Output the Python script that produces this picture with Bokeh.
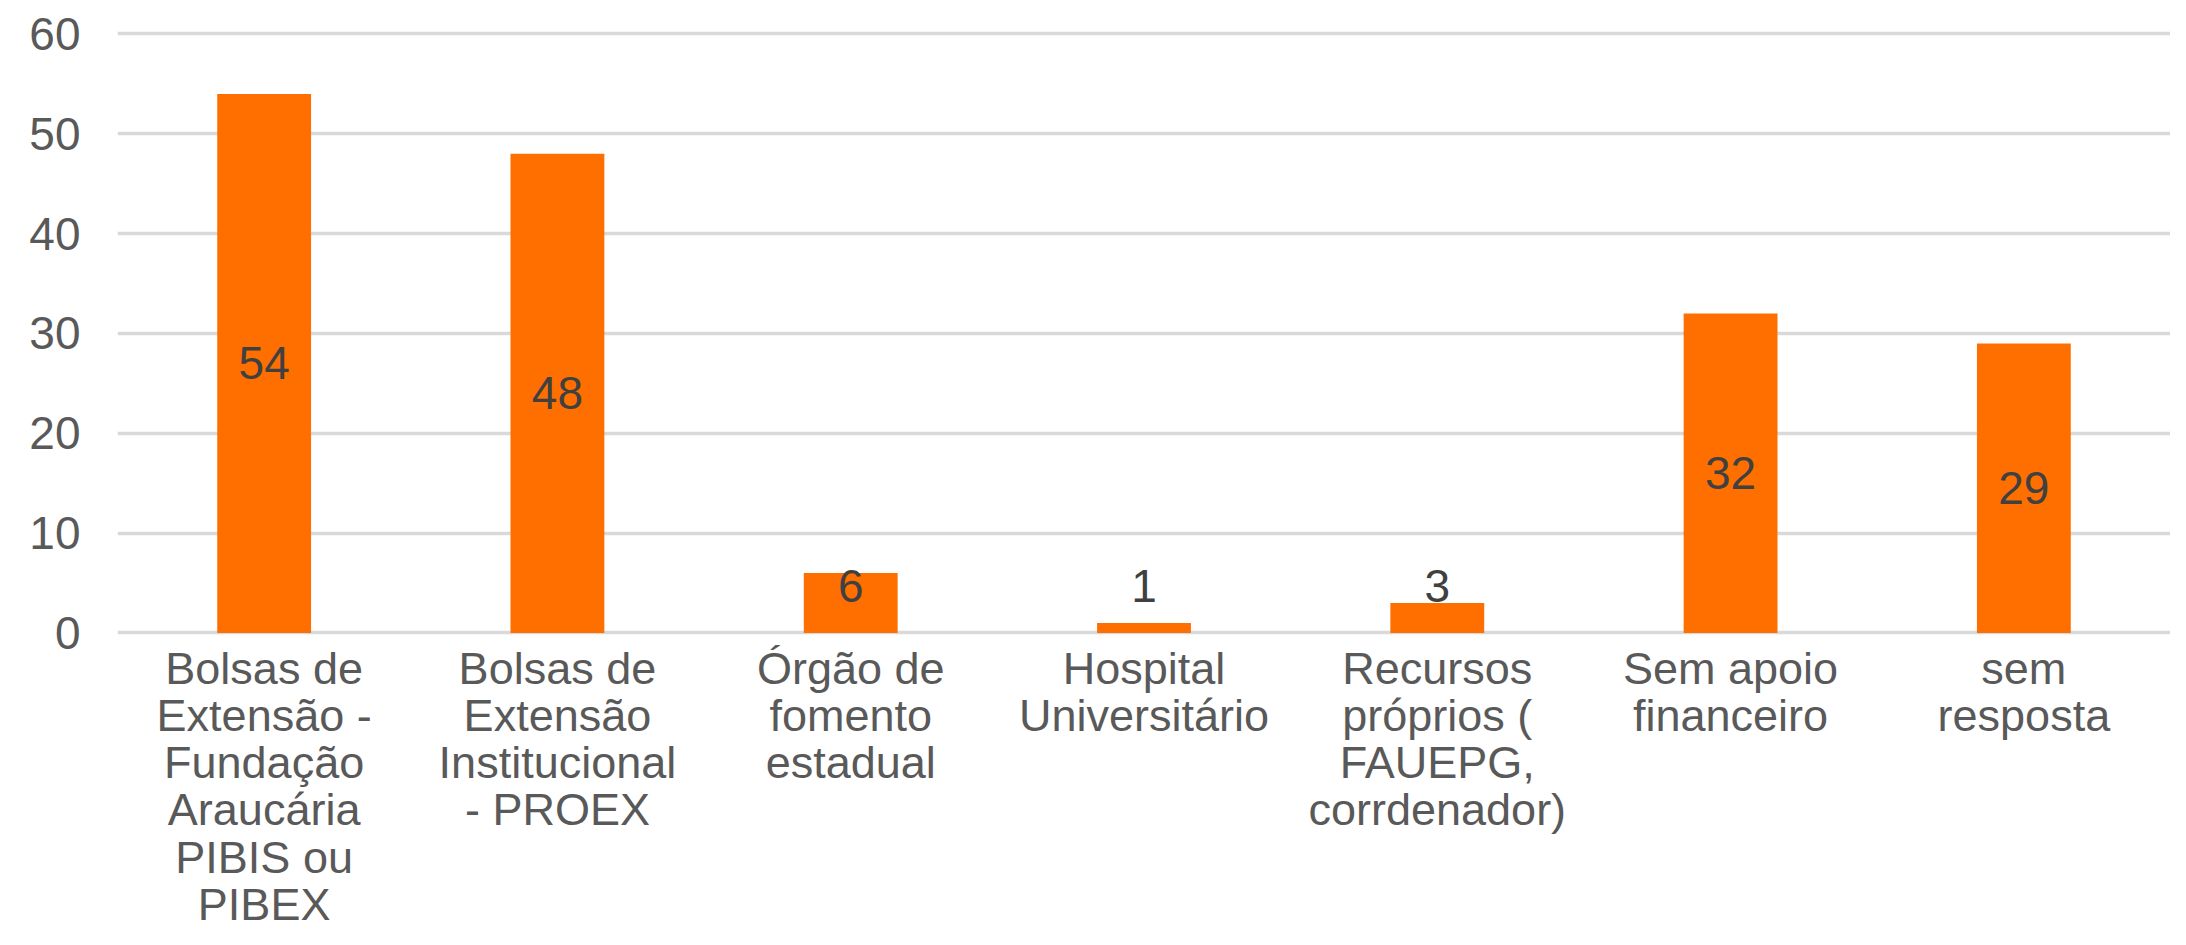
from bokeh.plotting import figure
from bokeh.models import ColumnDataSource, Range1d, FixedTicker, FactorRange
from bokeh.core.properties import value
from bokeh.embed import file_html
from bokeh.resources import INLINE

categories = [
    "Bolsas de Extensão - Fundação Araucária PIBIS ou PIBEX",
    "Bolsas de Extensão Institucional - PROEX",
    "Órgão de fomento estadual",
    "Hospital Universitário",
    "Recursos próprios ( FAUEPG, corrdenador)",
    "Sem apoio financeiro",
    "sem resposta",
]
wrapped_labels = [
    "Bolsas de\nExtensão -\nFundação\nAraucária\nPIBIS ou\nPIBEX",
    "Bolsas de\nExtensão\nInstitucional\n- PROEX",
    "Órgão de\nfomento\nestadual",
    "Hospital\nUniversitário",
    "Recursos\npróprios (\nFAUEPG,\ncorrdenador)",
    "Sem apoio\nfinanceiro",
    "sem\nresposta",
]
counts = [54, 48, 6, 1, 3, 32, 29]
y_ticks = [0, 10, 20, 30, 40, 50, 60]

FONT = "Liberation Sans"
BAR = "#ff6f00"
TXT = "#595959"

label_y = [max(v / 2, 4.7) for v in counts]
src = ColumnDataSource(dict(cat=categories, val=counts, txt=[str(v) for v in counts], ly=label_y))
# category labels sit just under the zero line, in the lower part of the frame
lsrc = ColumnDataSource(dict(cat=categories, wl=wrapped_labels, y=[-1.0] * len(categories)))

p = figure(
    x_range=FactorRange(*categories, range_padding=0, factor_padding=0),
    y_range=Range1d(-29.7, 60.35),
    width=2170, height=929,
    output_backend="svg", toolbar_location=None,
    min_border_left=117, min_border_right=0, min_border_top=30, min_border_bottom=0,
)
p.vbar(x="cat", top="val", bottom=0, width=0.32, source=src, color=BAR, line_color=None)
p.text(x="cat", y="ly", text="txt", source=src, text_align="center", text_baseline="middle",
       text_font=value(FONT), text_font_size="46px", text_color="#404040")
p.text(x="cat", y="y", text="wl", source=lsrc, text_align="center", text_baseline="top",
       text_font=value(FONT), text_font_size="45px", text_color=TXT, text_line_height=0.925)

p.outline_line_color = None
p.xgrid.grid_line_color = None
p.ygrid.grid_line_color = "#d9d9d9"
p.ygrid.grid_line_width = 3.5
p.ygrid.ticker = FixedTicker(ticks=y_ticks)
p.xaxis.visible = False
p.yaxis.ticker = FixedTicker(ticks=y_ticks)
p.yaxis.axis_line_color = None
p.yaxis.major_tick_line_color = None
p.yaxis.minor_tick_line_color = None
p.yaxis.major_tick_out = 0
p.yaxis.major_tick_in = 0
p.yaxis.major_label_text_font = FONT
p.yaxis.major_label_text_font_size = "46px"
p.yaxis.major_label_text_color = TXT
p.yaxis.major_label_standoff = 37

open("out.html", "w").write(file_html(p, INLINE))
